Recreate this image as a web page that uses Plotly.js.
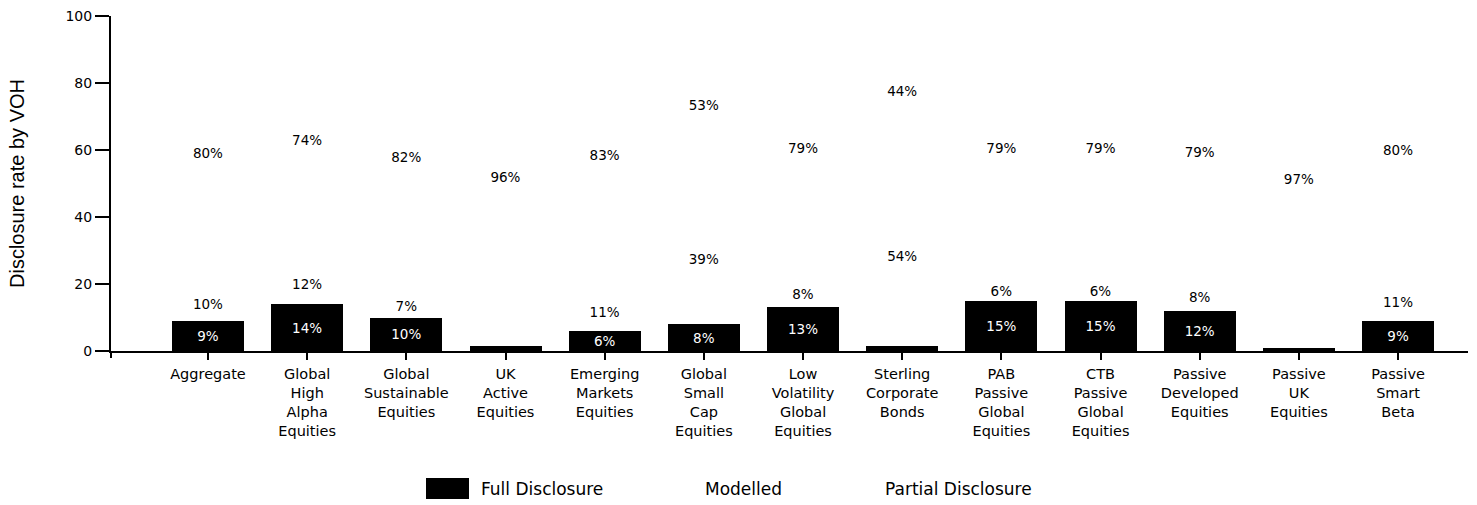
<!DOCTYPE html>
<html>
<head>
<meta charset="utf-8">
<script src="https://cdn.plot.ly/plotly-3.0.1.min.js"></script>
<style>
  html, body { margin: 0; padding: 0; background: #ffffff; }
  #chart { width: 1477px; height: 505px; }
</style>
</head>
<body>
<div id="chart"></div>
<script>
// ---- data ----
const categories = [
  "Aggregate", "Global High Alpha Equities", "Global Sustainable Equities",
  "UK Active Equities", "Emerging Markets Equities", "Global Small Cap Equities",
  "Low Volatility Global Equities", "Sterling Corporate Bonds",
  "PAB Passive Global Equities", "CTB Passive Global Equities",
  "Passive Developed Equities", "Passive UK Equities", "Passive Smart Beta"
];
const tickLabels = [
  "Aggregate", "Global<br>High<br>Alpha<br>Equities", "Global<br>Sustainable<br>Equities",
  "UK<br>Active<br>Equities", "Emerging<br>Markets<br>Equities", "Global<br>Small<br>Cap<br>Equities",
  "Low<br>Volatility<br>Global<br>Equities", "Sterling<br>Corporate<br>Bonds",
  "PAB<br>Passive<br>Global<br>Equities", "CTB<br>Passive<br>Global<br>Equities",
  "Passive<br>Developed<br>Equities", "Passive<br>UK<br>Equities", "Passive<br>Smart<br>Beta"
];
const seriesNames = ["Full Disclosure", "Modelled", "Partial Disclosure"];
const fullDisclosure    = [9, 14, 10, 1.5, 6, 8, 13, 1.5, 15, 15, 12, 0.8, 9];
const modelled          = [10, 12, 7, 2.5, 11, 39, 8, 54, 6, 6, 8, 2, 11];
const partialDisclosure = [80, 74, 82, 96, 83, 53, 79, 44, 79, 79, 79, 97, 80];
const yTicks = [0, 20, 40, 60, 80, 100];

// ---- helpers ----
const labelFont = "DejaVu Sans, sans-serif";
function pctText(vals) {
  return vals.map(v => (v >= 4 ? Math.round(v) + "%" : ""));
}

const seriesValues = [fullDisclosure, modelled, partialDisclosure];
const fillColors = ["#000000", "rgba(255,255,255,0)", "rgba(255,255,255,0)"];
const textColors = ["#ffffff", "#000000", "#000000"];

const traces = seriesValues.map((vals, i) => ({
  type: "bar",
  name: seriesNames[i],
  x: categories,
  y: vals,
  width: 0.726,
  marker: { color: fillColors[i], line: { width: 0 } },
  text: pctText(vals),
  textposition: "inside",
  insidetextanchor: "middle",
  constraintext: "none",
  textangle: 0,
  textfont: { family: labelFont, size: 13.5, color: textColors[i] },
  hoverinfo: "skip",
  showlegend: false
}));

// legend drawn as annotations (plus a large swatch for the filled series)
const plotL = 111, plotR = 1468, plotT = 16, plotB = 351;
const pw = plotR - plotL, ph = plotB - plotT;
const px2x = p => (p - plotL) / pw;
const py2y = p => (plotB - p) / ph;
const legendTextX = [479, 703, 883];
const legendY = 489;

const annotations = seriesNames.map((n, i) => ({
  xref: "paper", yref: "paper",
  x: px2x(legendTextX[i]), y: py2y(legendY),
  xanchor: "left", yanchor: "middle",
  text: n, showarrow: false,
  font: { family: labelFont, size: 17, color: "#000000" }
}));

const shapes = [
  {
    type: "rect", xref: "paper", yref: "paper",
    x0: px2x(426), x1: px2x(469), y0: py2y(499), y1: py2y(478),
    fillcolor: fillColors[0], line: { width: 0 }
  },
  { // small extension of the y axis line below the x axis, as in the reference
    type: "line", xref: "paper", yref: "paper",
    x0: 0, x1: 0, y0: 0, y1: py2y(358),
    line: { color: "#000000", width: 2 }
  }
];

const layout = {
  width: 1477, height: 505,
  margin: { l: plotL, r: 1477 - plotR, t: plotT, b: 505 - plotB },
  paper_bgcolor: "#ffffff", plot_bgcolor: "#ffffff",
  barmode: "stack",
  showlegend: false,
  font: { family: labelFont, color: "#000000", size: 14 },
  xaxis: {
    type: "category",
    range: [-0.978, 12.705],
    tickvals: categories,
    ticktext: tickLabels,
    tickangle: 0,
    showline: true, linecolor: "#000000", linewidth: 2,
    ticks: "outside", ticklen: 7, tickwidth: 2, tickcolor: "#000000",
    ticklabelstandoff: 2,
    showgrid: false, zeroline: false,
    tickfont: { family: labelFont, size: 14.5, color: "#000000" },
    fixedrange: true
  },
  yaxis: {
    range: [0, 100],
    tickvals: yTicks,
    showline: true, linecolor: "#000000", linewidth: 2,
    ticks: "outside", ticklen: 14, tickwidth: 2, tickcolor: "#000000",
    showgrid: false, zeroline: false,
    tickfont: { family: labelFont, size: 14, color: "#000000" },
    title: {
      text: "Disclosure rate by VOH",
      font: { family: "Liberation Sans, Arial, sans-serif", size: 20, color: "#000000" },
      standoff: 35
    },
    fixedrange: true
  },
  annotations: annotations,
  shapes: shapes
};

Plotly.newPlot("chart", traces, layout, { displayModeBar: false, staticPlot: true });
</script>
</body>
</html>
